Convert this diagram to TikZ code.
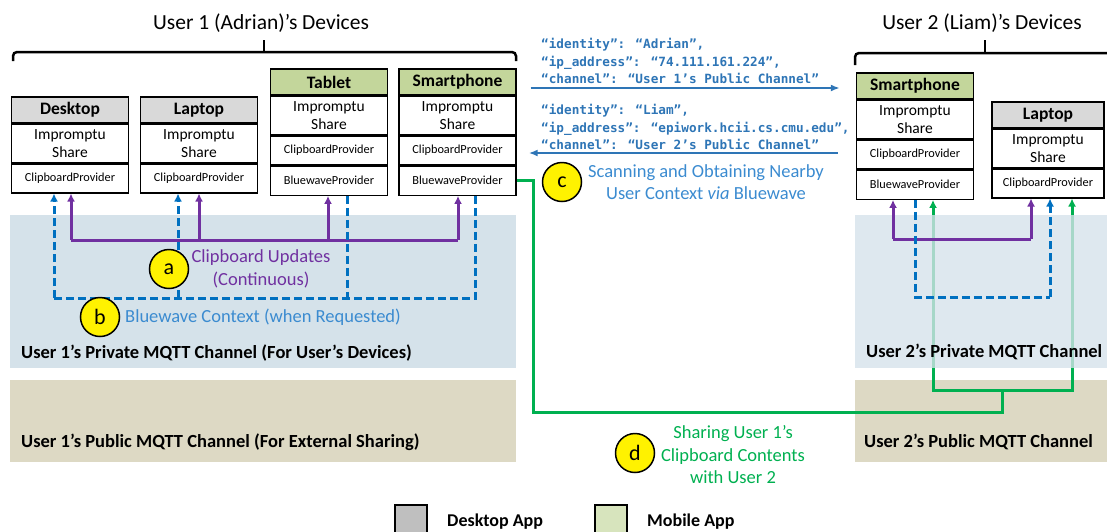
\documentclass[tikz,border=0pt]{standalone}
\usepackage{fontspec}
\setmainfont{Carlito}
\newfontfamily\codefont{DejaVu Sans Mono}
\usetikzlibrary{arrows.meta,positioning}
\definecolor{hdgrey}{HTML}{D9D9D9}
\definecolor{hdgreen}{HTML}{C3D69B}
\definecolor{lggrey}{HTML}{BFBFBF}
\definecolor{lggreen}{HTML}{D7E4BD}
\definecolor{privfill}{HTML}{D5E2EA}
\definecolor{pubfill}{HTML}{DDD9C4}
\definecolor{updcol}{HTML}{7030A0}
\definecolor{ctxcol}{HTML}{0070C0}
\definecolor{codecol}{HTML}{2E75B6}
\definecolor{lblblue}{HTML}{3B8BD0}
\definecolor{sharecol}{HTML}{00B050}
\tikzset{
  hd/.style={draw,line width=1.4pt,fill=hdgrey,minimum width=117pt,minimum height=26pt,inner sep=0pt,font=\fontsize{17.5}{19}\selectfont\bfseries},
  mhd/.style={hd,fill=hdgreen},
  ims/.style={draw,line width=1.4pt,fill=white,minimum width=117pt,minimum height=38pt,inner sep=0pt,align=center,font=\fontsize{15.5}{18}\selectfont},
  prov/.style={draw,line width=1.4pt,fill=white,minimum width=117pt,minimum height=29pt,inner sep=0pt,font=\fontsize{12.3}{13}\selectfont},
  brace/.style={line width=2.5pt,rounded corners=4pt},
  title/.style={font=\fontsize{21.5}{24}\selectfont},
  bandlbl/.style={anchor=west,inner sep=0pt,font=\fontsize{18.5}{20}\selectfont\bfseries},
  upd/.style={updcol,line width=3pt},
  ctx/.style={ctxcol,line width=3pt,dash pattern=on 8pt off 4pt},
  share/.style={sharecol,line width=3pt},
  scan/.style={codecol,line width=2.2pt,-{Latex[length=9pt,width=7pt]}},
  tip/.style={-{Latex[length=8pt,width=8pt]}},
  code/.style={anchor=north west,align=left,inner sep=0pt,text=codecol,font=\codefont\bfseries\fontsize{12.7}{17.5}\selectfont},
  badge/.style={circle,draw,line width=1.5pt,fill=yellow,minimum size=39pt,inner sep=0pt,font=\fontsize{22}{22}\selectfont},
  lbl/.style={align=center,inner sep=0pt,font=\fontsize{18.5}{22.5}\selectfont},
  lgbox/.style={draw,line width=1.4pt,minimum width=32pt,minimum height=32pt,inner sep=0pt},
  lgtxt/.style={anchor=west,inner sep=0pt,font=\fontsize{18}{20}\selectfont\bfseries}
}

\begin{document}
\begin{tikzpicture}[x=1pt,y=-1pt]
\useasboundingbox (0,0) rectangle (1107,531);
\clip (0,0) rectangle (1107,531);

% titles and braces
\node[title] (u1-title) at (261,23) {User 1 (Adrian)’s Devices};
\node[title] (u2-title) at (982,23) {User 2 (Liam)’s Devices};
\draw[brace] (13,61) -- (13,52) -- (516,52) -- (516,61);
\draw[brace] (264,52) -- (264,40);
\draw[brace] (855,65) -- (855,53) -- (1120,53);
\draw[brace] (985,53) -- (985,40);

% public channels
\fill[pubfill] (10,380) rectangle (516,462);
\fill[pubfill] (855,380) rectangle (1110,462);

% user 1 devices
\node[hd] (desk-hd) at (70,110) {Desktop};
\node[ims,below=0pt of desk-hd] (desk-ims) {Impromptu\\Share};
\node[prov,below=0pt of desk-ims] (desk-cp) {ClipboardProvider};

\node[hd] (lap-hd) at (199,110) {Laptop};
\node[ims,below=0pt of lap-hd] (lap-ims) {Impromptu\\Share};
\node[prov,below=0pt of lap-ims] (lap-cp) {ClipboardProvider};

\node[mhd] (tab-hd) at (329,82) {Tablet};
\node[ims,below=0pt of tab-hd] (tab-ims) {Impromptu\\Share};
\node[prov,below=0pt of tab-ims] (tab-cp) {ClipboardProvider};
\node[prov,below=0pt of tab-cp] (tab-bw) {BluewaveProvider};

\node[mhd] (smart-hd) at (457.5,82) {Smartphone};
\node[ims,below=0pt of smart-hd] (smart-ims) {Impromptu\\Share};
\node[prov,below=0pt of smart-ims] (smart-cp) {ClipboardProvider};
\node[prov,below=0pt of smart-cp] (smart-bw) {BluewaveProvider};

% user 2 devices
\node[mhd] (smart2-hd) at (915,86) {Smartphone};
\node[ims,below=0pt of smart2-hd] (smart2-ims) {Impromptu\\Share};
\node[prov,below=0pt of smart2-ims] (smart2-cp) {ClipboardProvider};
\node[prov,below=0pt of smart2-cp] (smart2-bw) {BluewaveProvider};

\node[hd,minimum width=112pt] (lap2-hd) at (1048,115) {Laptop};
\node[ims,minimum width=112pt,below=0pt of lap2-hd] (lap2-ims) {Impromptu\\Share};
\node[prov,minimum width=112pt,below=0pt of lap2-ims] (lap2-cp) {ClipboardProvider};

% (d) sharing path, under user 2's private channel
\coordinate (gj) at (1002,390);
\draw[share] (smart-bw.east) -- ++(17,0) |- ([yshift=-22pt]gj) -- (gj);
\draw[share,tip] (gj) -| ([xshift=18pt]smart2-bw.south);
\draw[share,tip] (gj) -| ([xshift=24pt]lap2-cp.south);

% private channels
\fill[privfill] (10,215) rectangle (516,368);
\fill[privfill,fill opacity=0.78] (855,215) rectangle (1110,368);

\node[bandlbl] (priv1-lbl) at (21,353) {User 1’s Private MQTT Channel (For User’s Devices)};
\node[bandlbl] (pub1-lbl) at (21,442) {User 1’s Public MQTT Channel (For External Sharing)};
\node[bandlbl] (priv2-lbl) at (866,352) {User 2’s Private MQTT Channel};
\node[bandlbl] (pub2-lbl) at (864,442) {User 2’s Public MQTT Channel};

% (a) clipboard updates
\draw[upd] ([xshift=1pt]desk-cp.south |- 0,240) -- ([xshift=0.5pt]smart-bw.south |- 0,240);
\foreach \dev/\dx in {desk-cp/1,lap-cp/0,tab-bw/-1,smart-bw/0.5}
  \draw[upd,tip] ([xshift=\dx pt]\dev.south |- 0,240) -- ([xshift=\dx pt]\dev.south);
\draw[upd] ([xshift=-22pt]smart2-bw.south |- 0,239) -- ([xshift=-17pt]lap2-cp.south |- 0,239);
\draw[upd,tip] ([xshift=-22pt]smart2-bw.south |- 0,239) -- ([xshift=-22pt]smart2-bw.south);
\draw[upd,tip] ([xshift=-17pt]lap2-cp.south |- 0,239) -- ([xshift=-17pt]lap2-cp.south);

% (b) bluewave context
\draw[ctx] ([xshift=18pt]smart-bw.south) |- ([xshift=-16pt]desk-cp.south |- 0,298);
\draw[ctx,tip] ([xshift=-16pt]desk-cp.south |- 0,298) -- ([xshift=-16pt]desk-cp.south);
\draw[ctx,tip] ([xshift=-21pt]lap-cp.south |- 0,298) -- ([xshift=-21pt]lap-cp.south);
\draw[ctx] ([xshift=18pt]tab-bw.south) -- ([xshift=18pt]tab-bw.south |- 0,298);
\draw[ctx] (smart2-bw.south) |- ([xshift=2pt]lap2-cp.south |- 0,297);
\draw[ctx,tip] ([xshift=2pt]lap2-cp.south |- 0,297) -- ([xshift=2pt]lap2-cp.south);

% (c) scanning
\node[code] (id-adrian) at (541,38) {“identity”: “Adrian”,\\“ip\_address”: “74.111.161.224”,\\“channel”: “User 1’s Public Channel”};
\node[code] (id-liam) at (541,104) {“identity”: “Liam”,\\“ip\_address”: “epiwork.hcii.cs.cmu.edu”,\\“channel”: “User 2’s Public Channel”};
\draw[scan] ([xshift=14pt]smart-ims.east |- 0,88) -- ([xshift=-16pt]smart2-ims.west |- 0,88);
\draw[scan] ([xshift=-18pt]smart2-ims.west |- 0,153) -- ([xshift=12pt]smart-ims.east |- 0,153);

% badges and labels
\node[badge] (badge-a) at (169,269) {a};
\node[lbl,text=updcol] (upd-lbl) at (261,269) {Clipboard Updates\\(Continuous)};
\node[badge] (badge-b) at (100,317) {b};
\node[lbl,text=lblblue,anchor=west] (ctx-lbl) at (125,317) {Bluewave Context (when Requested)};
\node[badge] (badge-c) at (562,182) {c};
\node[lbl,text=lblblue] (scan-lbl) at (706,182) {Scanning and Obtaining Nearby\\User Context \textit{via} Bluewave};
\node[badge] (badge-d) at (635,453) {d};
\node[lbl,text=sharecol] (share-lbl) at (733,455) {Sharing User 1’s\\Clipboard Contents\\with User 2};

% legend
\node[lgbox,fill=lggrey] (lg-desk) at (411,521) {};
\node[lgtxt] (lg-desk-txt) at (447,522) {Desktop App};
\node[lgbox,fill=lggreen] (lg-mob) at (611,521) {};
\node[lgtxt] (lg-mob-txt) at (647,522) {Mobile App};
\end{tikzpicture}
\end{document}
